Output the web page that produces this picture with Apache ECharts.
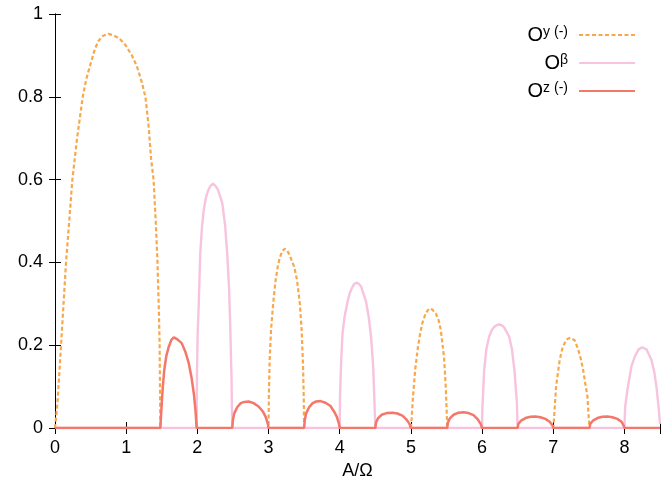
<!DOCTYPE html>
<html>
<head>
<meta charset="utf-8">
<script src="https://cdn.jsdelivr.net/npm/echarts@6/dist/echarts.min.js"></script>
<style>html,body{margin:0;padding:0;background:#fff;}#c{width:668px;height:489px;}</style>
</head>
<body>
<div id="c"></div>
<script>
// x-axis tick labels and y-axis ticks
const xTicks = [0, 1, 2, 3, 4, 5, 6, 7, 8];
const yTicks = [0, 0.2, 0.4, 0.6, 0.8, 1];
const legendNames = ['Oy', 'Ob', 'Oz'];

// O^y (-) : points [A/Ω, value]
const oyArch1 = [[0,0],[0.015,0.025],[0.03,0.05],[0.06,0.13],[0.085,0.2],[0.12,0.3],[0.155,0.4],[0.2,0.5],[0.244,0.6],[0.31,0.7],[0.39,0.8],[0.44,0.843],[0.49,0.874],[0.56,0.915],[0.61,0.935],[0.67,0.947],[0.75,0.952],[0.83,0.948],[0.91,0.94],[0.99,0.925],[1.08,0.9],[1.15,0.874],[1.22,0.835],[1.27,0.8],[1.315,0.73],[1.35,0.65],[1.385,0.6],[1.415,0.5],[1.44,0.4],[1.46,0.28],[1.47,0.2],[1.475,0.1],[1.48,0]];
const oyArch2 = [[3.0,0],[3.005,0.08],[3.015,0.16],[3.035,0.237],[3.065,0.3],[3.1,0.358],[3.13,0.39],[3.16,0.412],[3.195,0.428],[3.23,0.433],[3.265,0.428],[3.3,0.416],[3.36,0.39],[3.4,0.358],[3.44,0.3],[3.465,0.237],[3.485,0.15],[3.495,0.07],[3.5,0]];
const oyArch3 = [[5.0,0],[5.005,0.01],[5.03,0.076],[5.06,0.14],[5.1,0.197],[5.13,0.228],[5.16,0.253],[5.21,0.278],[5.26,0.289],[5.3,0.286],[5.35,0.277],[5.39,0.26],[5.42,0.237],[5.465,0.172],[5.49,0.1],[5.505,0.03],[5.51,0]];
const oyArch4 = [[7.0,0],[7.01,0.02],[7.04,0.1],[7.09,0.164],[7.125,0.19],[7.16,0.205],[7.2,0.215],[7.24,0.218],[7.3,0.212],[7.35,0.19],[7.39,0.165],[7.42,0.14],[7.48,0.076],[7.5,0.02],[7.51,0]];
const oyEnd = [[8.5,0]];

// O^β : points
const obStart = [[0,0]];
const obArch1 = [[1.99,0],[1.995,0.14],[2.005,0.23],[2.02,0.3],[2.04,0.42],[2.065,0.485],[2.09,0.527],[2.12,0.556],[2.15,0.573],[2.185,0.585],[2.22,0.59],[2.255,0.585],[2.29,0.575],[2.35,0.543],[2.39,0.49],[2.42,0.42],[2.445,0.34],[2.46,0.26],[2.48,0.12],[2.49,0]];
const obArch2 = [[4.0,0],[4.005,0.08],[4.02,0.16],[4.04,0.23],[4.07,0.27],[4.11,0.305],[4.14,0.325],[4.17,0.338],[4.2,0.347],[4.235,0.351],[4.27,0.348],[4.3,0.342],[4.37,0.305],[4.41,0.265],[4.44,0.221],[4.47,0.15],[4.485,0.08],[4.5,0]];
const obArch3 = [[6.0,0],[6.005,0.05],[6.03,0.14],[6.06,0.19],[6.1,0.221],[6.135,0.236],[6.17,0.244],[6.21,0.249],[6.245,0.25],[6.28,0.248],[6.31,0.243],[6.38,0.221],[6.42,0.19],[6.455,0.14],[6.49,0.06],[6.5,0]];
const obArch4 = [[8.0,0],[8.01,0.05],[8.04,0.09],[8.07,0.12],[8.1,0.15],[8.145,0.172],[8.2,0.19],[8.25,0.195],[8.31,0.19],[8.38,0.164],[8.42,0.135],[8.45,0.1],[8.48,0.05],[8.5,0.01]];

// O^z (-) : points
const ozStart = [[0,0]];
const ozArch1 = [[1.48,0],[1.49,0.03],[1.5,0.06],[1.515,0.1],[1.535,0.14],[1.565,0.175],[1.6,0.197],[1.635,0.213],[1.67,0.219],[1.72,0.214],[1.78,0.205],[1.83,0.185],[1.88,0.156],[1.92,0.12],[1.95,0.084],[1.975,0.04],[1.99,0]];
const ozArch2 = [[2.49,0],[2.5,0.02],[2.52,0.036],[2.56,0.05],[2.61,0.06],[2.66,0.063],[2.72,0.064],[2.79,0.06],[2.86,0.052],[2.92,0.04],[2.96,0.027],[2.99,0.01],[3.0,0]];
const ozArch3 = [[3.5,0],[3.51,0.02],[3.53,0.036],[3.57,0.05],[3.62,0.06],[3.67,0.064],[3.73,0.065],[3.8,0.061],[3.87,0.053],[3.92,0.04],[3.96,0.027],[3.99,0.01],[4.0,0]];
const ozArch4 = [[4.5,0],[4.51,0.013],[4.54,0.024],[4.59,0.032],[4.66,0.036],[4.74,0.037],[4.81,0.035],[4.88,0.03],[4.94,0.02],[4.98,0.01],[5.0,0]];
const ozArch5 = [[5.51,0],[5.52,0.013],[5.55,0.024],[5.6,0.032],[5.67,0.037],[5.74,0.038],[5.81,0.036],[5.88,0.031],[5.94,0.021],[5.98,0.01],[6.0,0]];
const ozArch6 = [[6.5,0],[6.51,0.01],[6.55,0.018],[6.61,0.024],[6.68,0.027],[6.75,0.0275],[6.82,0.026],[6.89,0.022],[6.95,0.015],[6.99,0.006],[7.0,0]];
const ozArch7 = [[7.51,0],[7.52,0.01],[7.56,0.018],[7.62,0.024],[7.69,0.027],[7.76,0.0275],[7.83,0.026],[7.9,0.022],[7.96,0.015],[7.99,0.006],[8.0,0]];
const ozEnd = [[8.5,0]];

const oyData = [].concat(oyArch1, oyArch2, oyArch3, oyArch4, oyEnd);
const obData = [].concat(obStart, obArch1, obArch2, obArch3, obArch4);
const ozData = [].concat(ozStart, ozArch1, ozArch2, ozArch3, ozArch4, ozArch5, ozArch6, ozArch7, ozEnd);

const FONT = 'Liberation Sans, Arial, Helvetica, sans-serif';
const C_Y = '#f8a84c', C_B = '#f8c3de', C_Z = '#f3776a';

const chart = echarts.init(document.getElementById('c'), null, {renderer: 'canvas'});
const axisCommon = {
  type: 'value',
  axisLine: {show: true, lineStyle: {color: '#000', width: 1}},
  axisTick: {show: true, inside: true, length: 6, lineStyle: {color: '#000'}},
  splitLine: {show: false},
};
const legendMap = {Oy: '{o|O}{s|y (-)}', Ob: '{o|O}{s|β}', Oz: '{o|O}{s|z (-)}'};
chart.setOption({
  animation: false,
  backgroundColor: '#fff',
  grid: {left: 55, right: 8, top: 14, bottom: 61},
  legend: {
    orient: 'vertical', right: 27, top: 20, align: 'right',
    itemWidth: 56, itemHeight: 14, itemGap: 8,
    data: legendNames,
    formatter: n => legendMap[n],
    itemStyle: {opacity: 0},
    lineStyle: {opacity: 1},
    textStyle: {
      fontFamily: FONT, color: '#000', padding: [0, 6, 0, 0],
      rich: {
        o: {fontSize: 20, fontFamily: FONT, color: '#000', lineHeight: 20},
        s: {fontSize: 14, fontFamily: FONT, color: '#000', lineHeight: 12, verticalAlign: 'top'}
      }
    }
  },
  xAxis: [
    Object.assign({}, axisCommon, {
      position: 'bottom', min: 0, max: 8.5, interval: 1,
      name: 'A/Ω', nameLocation: 'middle', nameGap: 31,
      nameTextStyle: {fontFamily: FONT, fontSize: 18, color: '#000'},
      axisLabel: {fontFamily: FONT, fontSize: 18, color: '#000', margin: 11,
        formatter: v => (xTicks.indexOf(v) >= 0 ? String(v) : '')}
    }),
    Object.assign({}, axisCommon, {
      position: 'top', min: 0, max: 8.5, interval: 1, axisLabel: {show: false}
    })
  ],
  yAxis: [
    Object.assign({}, axisCommon, {
      position: 'left', min: 0, max: 1, interval: 0.2,
      axisLabel: {fontFamily: FONT, fontSize: 18, color: '#000', margin: 12,
        formatter: v => {const t = yTicks.find(k => Math.abs(k - v) < 1e-9); return t === undefined ? '' : String(t);}}
    }),
    Object.assign({}, axisCommon, {
      position: 'right', min: 0, max: 1, interval: 0.2, axisLabel: {show: false}
    })
  ],
  series: [
    {name: 'Oy', type: 'line', data: oyData, symbol: 'none', smooth: false,
      lineStyle: {color: C_Y, width: 2.2, type: [4, 2.5]}, itemStyle: {color: C_Y}, z: 2},
    {name: 'Ob', type: 'line', data: obData, symbol: 'none', smooth: false,
      lineStyle: {color: C_B, width: 2.4}, itemStyle: {color: C_B}, z: 3},
    {name: 'Oz', type: 'line', data: ozData, symbol: 'none', smooth: false,
      lineStyle: {color: C_Z, width: 2.5}, itemStyle: {color: C_Z}, z: 4}
  ]
});
</script>
</body>
</html>
